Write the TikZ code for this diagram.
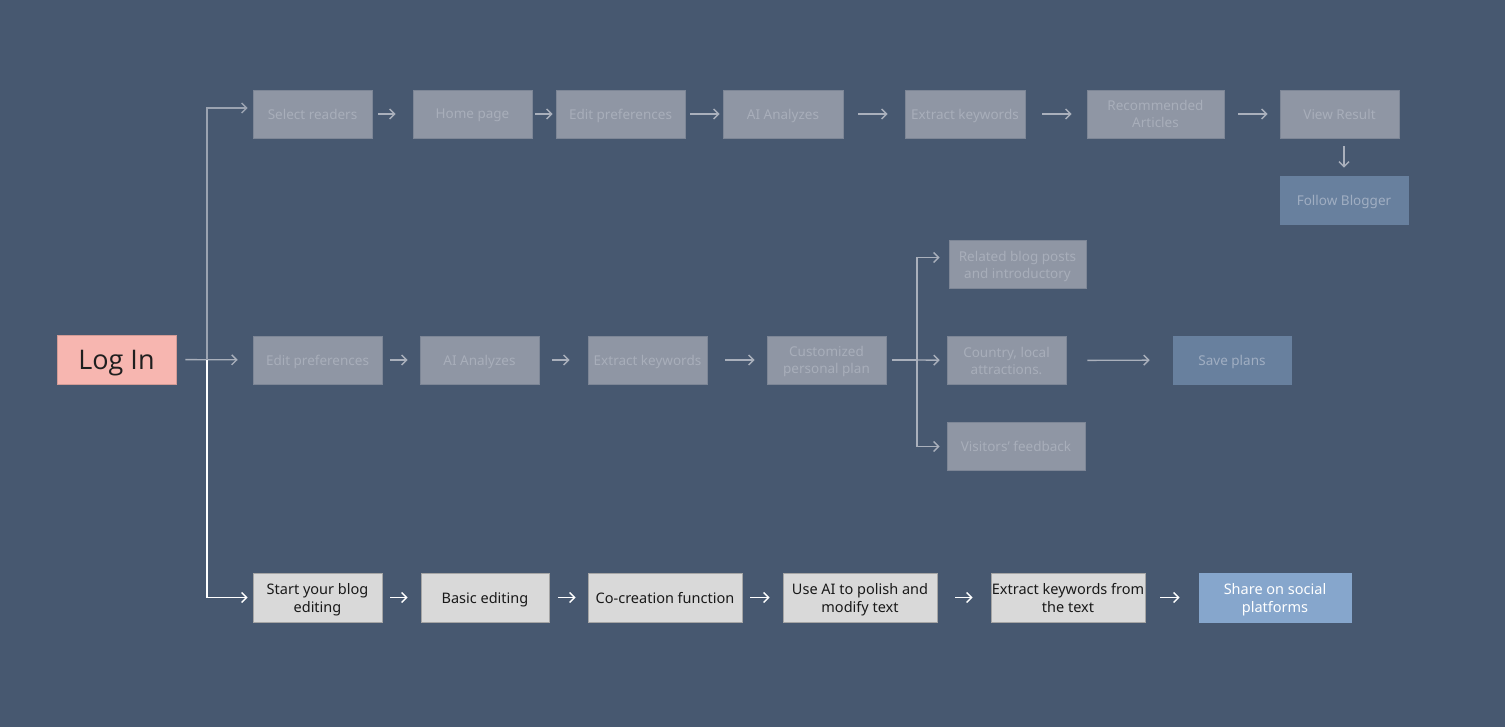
\documentclass[tikz,border=0pt]{standalone}
\usepackage{fontspec}
\setmainfont{Noto Sans}
\newfontfamily\loginfont{Open Sans}
\usetikzlibrary{positioning}
\usetikzlibrary{arrows.meta}
\definecolor{bgblue}{RGB}{71,88,112}
\definecolor{fadefill}{RGB}{143,150,164}
\definecolor{fadeedge}{RGB}{125,134,150}
\definecolor{fadetext}{RGB}{168,174,186}
\definecolor{fadearr}{RGB}{170,176,188}
\definecolor{slatefill}{RGB}{104,128,158}
\definecolor{slatetext}{RGB}{160,174,194}
\definecolor{loginpink}{RGB}{247,182,176}
\definecolor{lightbox}{RGB}{217,217,217}
\definecolor{lightedge}{RGB}{165,165,165}
\definecolor{sharefill}{RGB}{134,166,204}
\tikzset{faded/.style = {fill=fadefill, draw=fadeedge, line width=0.6pt, text=fadetext, font=\fontsize{13.5}{17}\selectfont, align=center, minimum height=48pt, inner sep=1pt, text depth=0pt}}
\tikzset{slate/.style = {faded, fill=slatefill, draw=slatefill, text=slatetext}}
\tikzset{plain/.style = {fill=lightbox, draw=lightedge, line width=0.6pt, text=black!90, font=\fontsize{14.5}{18}\selectfont, align=center, minimum height=49pt, inner sep=0pt, text depth=0pt}}
\tikzset{fadearrow/.style = {draw=fadearr, line width=1.4pt, -{Straight Barb[length=5pt,width=10pt]}}}
\tikzset{whitearrow/.style = {draw=white, line width=1.4pt, -{Straight Barb[length=5pt,width=10pt]}}}

\begin{document}
\begin{tikzpicture}[x=1pt,y=-1pt]
\fill[bgblue] (0,0) rectangle (1505,727);
\useasboundingbox (0,0) rectangle (1505,727);
% start
\node[fill=loginpink, draw=loginpink!85!black, line width=0.5pt, minimum width=119pt, minimum height=49pt, text depth=0pt, font=\loginfont\fontsize{27}{30}\selectfont, text=black!88] (login) at (116.5,359.5) {Log In};
\coordinate (split) at (207,360);
% readers row
\node[faded, minimum width=119pt](sr) at (312.5,114) {Select readers};
\node[faded, minimum width=119pt](hp) at (472.5,114) {Home page};
\node[faded, minimum width=129pt](ep) at (620.5,114) {Edit preferences};
\node[faded, minimum width=120pt](ai) at (783,114) {AI Analyzes};
\node[faded, minimum width=120pt](ek) at (965,114) {Extract keywords};
\node[faded, minimum width=137pt](ra) at (1155.5,114) {Recommended\\Articles};
\node[faded, minimum width=119pt](vr) at (1339.5,114) {View Result};
\node[slate, minimum width=128pt](fb) at (1344,200) {Follow Blogger};
% travel row
\node[faded, minimum width=129pt](ep2) at (317.5,360) {Edit preferences};
\node[faded, minimum width=119pt](ai2) at (479.5,360) {AI Analyzes};
\node[faded, minimum width=119pt](ek2) at (647.5,360) {Extract keywords};
\node[faded, minimum width=119pt](cp) at (826.5,360) {Customized\\personal plan};
\coordinate (fork) at (917,360);
\node[faded, minimum width=137pt](rb) at (1017.5,264.5) {Related blog posts\\and introductory};
\node[faded, minimum width=119pt](cl) at (1006.5,360.5) {Country, local\\attractions.};
\node[faded, minimum width=138pt](vf) at (1016,446.5) {Visitors' feedback};
\node[slate, minimum width=118pt](sp) at (1232,360) {Save plans};
% writers row
\node[plain, minimum width=129pt](sb) at (317.5,597.5) {Start your blog\\editing};
\node[plain, minimum width=128pt](be) at (485,597.5) {Basic editing};
\node[plain, minimum width=154pt](cc) at (665,597.5) {Co-creation function};
\node[plain, minimum width=154pt](ua) at (860,597.5) {Use AI to polish and\\modify text};
\node[plain, minimum width=154pt](ex) at (1068,597.5) {Extract keywords from\\the text};
\node[plain, fill=sharefill, draw=sharefill, text=white, minimum width=152pt](ss) at (1275,597.5) {Share on social\\platforms};
% trunk
\draw[fadearrow, shorten <=9pt, shorten >=15pt] (login) -- (ep2);
\draw[fadearrow, draw=fadearr!85!bgblue, shorten >=5pt] (split) |- ([yshift=6pt]sr.west);
\draw[whitearrow, shorten >=5pt] (split) |- (sb.west);
% readers arrows
\draw[fadearrow, shorten <=6pt, shorten >=17pt] (sr) -- (hp);
\draw[fadearrow, shorten <=3pt, shorten >=3pt] (hp) -- (ep);
\draw[fadearrow, shorten <=5pt, shorten >=3pt] (ep) -- (ai);
\draw[fadearrow, shorten <=15pt, shorten >=17pt] (ai) -- (ek);
\draw[fadearrow, shorten <=17pt, shorten >=15pt] (ek) -- (ra);
\draw[fadearrow, shorten <=14pt, shorten >=12pt] (ra) -- (vr);
\draw[fadearrow, shorten <=8pt, shorten >=8pt] (vr.south -| fb) -- (fb);
% travel arrows
\draw[fadearrow, shorten <=8pt, shorten >=12pt] (ep2) -- (ai2);
\draw[fadearrow, shorten <=13pt, shorten >=18pt] (ai2) -- (ek2);
\draw[fadearrow, shorten <=18pt, shorten >=12pt] (ek2) -- (cp);
\draw[fadearrow, -, shorten <=6pt] (cp) -- (fork);
\draw[fadearrow, shorten >=9pt] (fork) |- ([yshift=7pt]rb.west);
\draw[fadearrow, shorten >=7pt] (fork) -- (cl);
\draw[fadearrow, shorten >=7pt] (fork) |- (vf.west);
\draw[fadearrow, shorten <=21pt, shorten >=23pt] (cl) -- (sp);
% writers arrows
\draw[whitearrow, shorten <=8pt, shorten >=13pt] (sb) -- (be);
\draw[whitearrow, shorten <=9pt, shorten >=12pt] (be) -- (cc);
\draw[whitearrow, shorten <=8pt, shorten >=13pt] (cc) -- (ua);
\draw[whitearrow, shorten <=18pt, shorten >=18pt] (ua) -- (ex);
\draw[whitearrow, shorten <=15pt, shorten >=19pt] (ex) -- (ss);
\end{tikzpicture}
\end{document}
